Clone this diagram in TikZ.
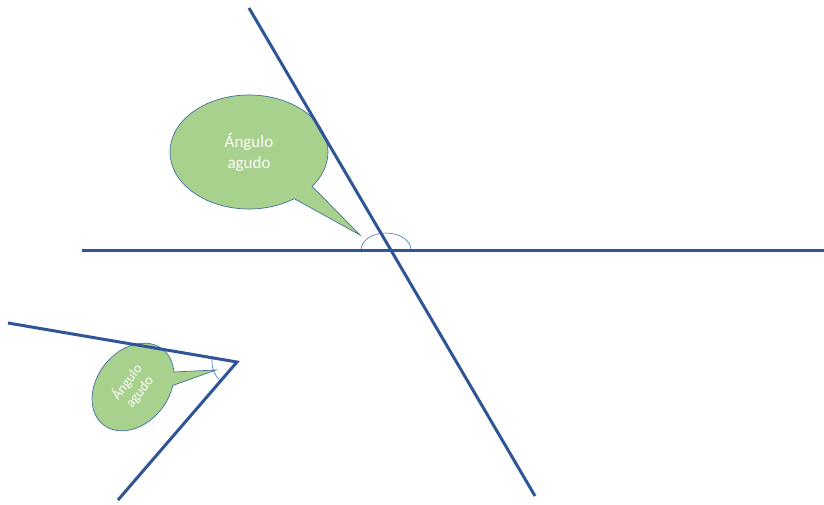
\documentclass[tikz,border=0pt]{standalone}
\usepackage{fontspec}
\setmainfont{Carlito}
\usetikzlibrary{shapes.geometric, shapes.callouts, calc}
\definecolor{linecol}{HTML}{2F5597}
\definecolor{markcol}{HTML}{4472C4}
\definecolor{bubblefill}{HTML}{A9D18E}
\definecolor{bubbleline}{HTML}{41719C}
\tikzset{
    strokeline/.style={draw=linecol, line width=3pt},
    anglemark/.style={draw=markcol, line width=0.6pt},
    bubble/.style={ellipse callout, fill=bubblefill, draw=bubbleline, line width=0.7pt,
                   text=white, align=center, inner sep=0pt, callout pointer arc=18},
}
\begin{document}
\begin{tikzpicture}[x=1pt, y=1pt]
    \useasboundingbox (0,0) rectangle (824,504);

    % points of the two figures
    \coordinate (hl) at (82,254);
    \coordinate (hr) at (824,254);
    \coordinate (st) at (249,496);
    \coordinate (sb) at (535,8);
    \coordinate (cross) at (386,254);
    \coordinate (la) at (8,181);
    \coordinate (vtx) at (237,142);
    \coordinate (lb) at (118,4);

    % callouts
    \node[bubble, minimum width=158pt, minimum height=114pt, font=\fontsize{17}{21}\selectfont,
          callout absolute pointer={(360,269)}] (bigbubble) at (249,352)
        {Ángulo\\agudo};
    \node[bubble, minimum width=96pt, minimum height=72pt, font=\fontsize{14}{16}\selectfont,
          rotate=52, callout absolute pointer={(216,134)}] (smallbubble) at (133,117)
        {Ángulo\\agudo};

    % angle marks
    \draw[anglemark] ($(cross)+(25,0)$) arc[start angle=0, end angle=180, x radius=25, y radius=17];
    \draw[anglemark] ($(vtx)+(170:25)$) arc[start angle=170, end angle=229, radius=25];

    % lines
    \draw[strokeline] (hl) -- (hr);
    \draw[strokeline] (st) -- (sb);
    \draw[strokeline, line join=miter] (la) -- (vtx) -- (lb);

\end{tikzpicture}
\end{document}
